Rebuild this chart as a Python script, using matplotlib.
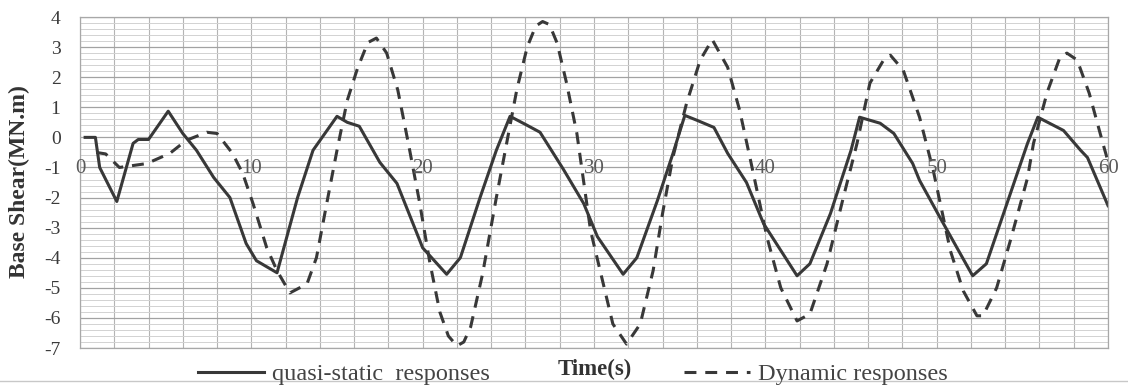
import numpy as np
import matplotlib.pyplot as plt
from matplotlib.ticker import MultipleLocator
from matplotlib.lines import Line2D

plt.rcParams['font.family'] = ['Liberation Serif', 'DejaVu Serif']
plt.rcParams['axes.unicode_minus'] = False

# quasi-static response
time_qs = [0.3, 0.9, 1.15, 2.15, 3.1, 3.4, 4.0, 5.15, 6.0, 6.8, 7.8, 8.75, 9.7, 10.3, 11.5,
           12.7, 13.6, 15.0, 15.6, 16.3, 17.5, 18.5, 20.0, 21.4, 22.2, 23.35, 24.3,
           25.1, 26.1, 26.85, 28.2, 29.4, 30.2, 31.7, 32.5, 33.7, 34.6,
           35.3, 36.0, 37.0, 37.8, 38.9, 39.9, 41.85, 42.6, 43.8, 45.0,
           45.5, 46.7, 47.5, 48.6, 49.0, 50.2, 52.1, 52.9, 54.1, 55.3,
           55.9, 57.4, 58.4, 58.8, 60.0]
shear_qs = [0.0, 0.0, -1.0, -2.13, -0.2, -0.07, -0.07, 0.87, 0.13, -0.43, -1.33, -2.0, -3.53, -4.1, -4.5,
            -2.0, -0.43, 0.7, 0.5, 0.37, -0.83, -1.53, -3.67, -4.55, -4.0, -2.0, -0.43,
            0.7, 0.4, 0.17, -1.05, -2.2, -3.3, -4.55, -4.0, -2.1, -0.55,
            0.73, 0.57, 0.33, -0.53, -1.5, -2.87, -4.6, -4.2, -2.53, -0.43,
            0.67, 0.47, 0.13, -0.87, -1.43, -2.67, -4.6, -4.2, -2.2, -0.2,
            0.67, 0.23, -0.43, -0.67, -2.27]

# dynamic response
time_dyn = [0.95, 1.5, 2.3, 3.9, 5.25, 6.2, 7.4, 8.0, 8.9, 9.5, 10.1, 10.9, 11.5, 12.25,
            13.25, 13.8, 14.4, 15.0, 15.6, 16.2, 16.8, 17.3, 17.9, 18.55, 19.2, 19.8,
            20.4, 21.0, 21.5, 22.0, 22.4, 22.8, 23.5, 24.3, 24.9, 25.5, 26.1, 26.6,
            27.0, 27.4, 27.85, 28.4, 29.0, 29.8, 30.4, 31.1, 31.9, 32.7, 33.45, 34.0,
            34.6, 35.4, 36.2, 36.9, 37.8, 38.5, 39.1, 40.1, 40.9, 41.85, 42.6, 43.6,
            44.55, 45.35, 46.1, 46.9, 47.3, 48.05, 49.0, 49.8, 50.8, 51.55, 52.35,
            52.7, 53.5, 54.3, 55.3, 55.65, 56.45, 57.2, 57.6, 58.2, 58.9, 59.7, 60.0]
shear_dyn = [-0.5, -0.55, -1.0, -0.87, -0.53, -0.1, 0.17, 0.13, -0.53, -1.2, -2.2, -3.67, -4.43, -5.17,
             -4.87, -4.0, -2.2, -0.43, 1.23, 2.3, 3.15, 3.3, 2.8, 1.57, -0.3, -2.1,
             -4.1, -5.8, -6.6, -6.93, -6.8, -6.3, -4.53, -2.0, -0.2, 1.6, 3.0, 3.7,
             3.85, 3.75, 3.13, 1.8, 0.13, -3.1, -4.53, -6.2, -6.87, -6.2, -4.43, -2.53,
             -0.67, 1.13, 2.57, 3.25, 2.33, 0.9, -0.67, -3.33, -5.0, -6.1, -5.87, -4.2,
             -2.0, -0.2, 1.8, 2.57, 2.73, 2.23, 0.67, -1.1, -3.77, -5.1, -5.93,
             -5.93, -5.0, -3.43, -1.35, -0.2, 1.5, 2.67, 2.8, 2.57, 1.47, -0.2, -0.8]

x_ticks = [0, 10, 20, 30, 40, 50, 60]
y_ticks = [4, 3, 2, 1, 0, -1, -2, -3, -4, -5, -6, -7]

line_col = '#383838'

fig = plt.figure(figsize=(11.28, 3.85), dpi=100)
ax = fig.add_axes([0.0709, 0.0961, 0.9114, 0.8597])

ax.plot(time_qs, shear_qs, color=line_col, lw=2.2, label='quasi-static  responses')
ax.plot(time_dyn, shear_dyn, color=line_col, lw=2.2, dashes=(3.9, 2.9), label='Dynamic responses')

ax.set_xlim(0, 60)
ax.set_ylim(-7, 4)

# grid like the Excel chart
ax.xaxis.set_major_locator(MultipleLocator(10))
ax.xaxis.set_minor_locator(MultipleLocator(2))
ax.set_yticks(y_ticks)
ax.yaxis.set_minor_locator(MultipleLocator(0.2))
ax.grid(which='major', axis='y', color='#a2a2a2', lw=0.9)
ax.grid(which='minor', axis='y', color='#d2d2d2', lw=0.7)
ax.grid(which='both', axis='x', color='#b4b4b4', lw=0.8)
ax.set_axisbelow(True)
for s in ax.spines.values():
    s.set_color('#a8a8a8')
    s.set_linewidth(0.9)

ax.tick_params(axis='both', which='both', length=0)
ax.tick_params(axis='y', labelsize=14, labelcolor='#3a3a3a', pad=14)
ax.set_xticklabels([])

# x tick labels sit next to the horizontal axis at y = 0
for v in x_ticks:
    ax.text(v, -1.03, str(v), ha='center', va='center', fontsize=15, color='#5a5a5a')

ax.set_ylabel('Base Shear(MN.m)', fontsize=17, fontweight='bold', color='#333333')
ax.yaxis.set_label_coords(-0.049, 0.503)
fig.text(0.527, 0.041, 'Time(s)', ha='center', va='center', fontsize=16.5,
         fontweight='bold', color='#333333')

fig.legend(loc='center', bbox_to_anchor=(0.508, 0.028), ncol=2, frameon=False,
           fontsize=17.5, handlelength=2.7, handletextpad=0.33, columnspacing=8.0,
           labelcolor='#444444', borderpad=0, borderaxespad=0)

fig.add_artist(Line2D([0, 1], [0.01, 0.01], color='#c8c8c8', lw=1))

fig.savefig('out.png', dpi=100, facecolor='white')
